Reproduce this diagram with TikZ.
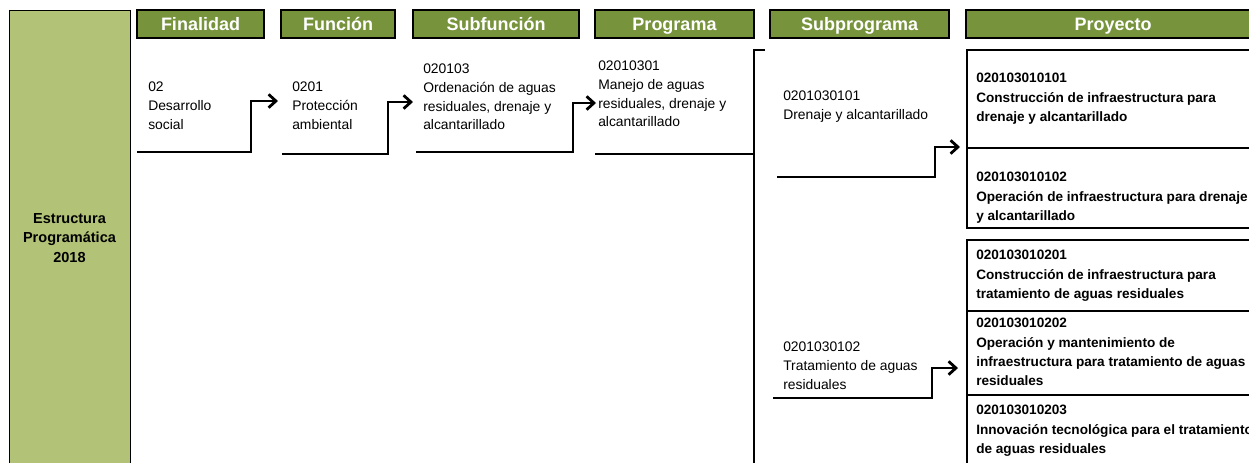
\documentclass[tikz,border=0pt]{standalone}
\usepackage{fontspec}
\setmainfont{Liberation Sans}
\usetikzlibrary{arrows.meta}
\definecolor{hdrgreen}{HTML}{77933C}
\definecolor{lightolive}{HTML}{B2C276}
\begin{document}
\begin{tikzpicture}[x=0.75pt,y=-0.75pt,
  hdr/.style={draw=black, line width=0.8pt, fill=hdrgreen, text=white,
    font=\fontsize{13.5}{16}\selectfont\bfseries, minimum height=21pt, inner sep=0pt,
    text height=9.7pt, text depth=0pt},
  lbl/.style={anchor=north west, inner sep=0pt, align=left, font=\fontsize{10.4}{13.9}\selectfont},
  plbl/.style={anchor=north west, inner sep=0pt, align=left, font=\fontsize{10.2}{14.5}\selectfont\bfseries},
  cell/.style={draw=black, line width=1.8pt, anchor=north west, inner sep=0pt, minimum width=220.5pt},
  conn/.style={line width=2.1pt, -{Straight Barb[length=5.5pt,width=10pt]}},
  bar/.style={line width=2.1pt},
  leftbox/.style={draw=black, line width=0.75pt, fill=lightolive,
    font=\fontsize{10.9}{14.6}\selectfont\bfseries, align=center,
    minimum width=90.75pt, minimum height=342pt, inner sep=0pt}]
\clip (0,0) rectangle (1249,462);
\fill[white] (0,0) rectangle (1249,462);

% left box
\node[leftbox] (est) at (69.5,238) {Estructura\\Programática\\2018};

% headers
\node[hdr, minimum width=95.25pt] (hfin) at (200.5,24) {Finalidad};
\node[hdr, minimum width=85.5pt] (hfun) at (338,24) {Función};
\node[hdr, minimum width=124.5pt] (hsub) at (496,24) {Subfunción};
\node[hdr, minimum width=119.25pt] (hpro) at (674.5,24) {Programa};
\node[hdr, minimum width=134.25pt] (hspr) at (859.5,24) {Subprograma};
\node[hdr, minimum width=220.5pt] (hpry) at (1113,24) {Proyecto};

% column texts
\node[lbl] (t1) at (148,82) {02\\Desarrollo\\social};
\node[lbl] (t2) at (292,82) {0201\\Protección\\ambiental};
\node[lbl] (t3) at (423,64) {020103\\Ordenación de aguas\\residuales, drenaje y\\alcantarillado};
\node[lbl] (t4) at (598,61) {02010301\\Manejo de aguas\\residuales, drenaje y\\alcantarillado};
\node[lbl] (u1) at (783,91) {0201030101\\Drenaje y alcantarillado};
\node[lbl] (u2) at (783,342) {0201030102\\Tratamiento de aguas\\residuales};

% project cells
\node[cell, minimum height=73.5pt] (p1) at (966,49) {};
\node[cell, minimum height=60pt] (p2) at (966,147) {};
\node[cell, minimum height=53.25pt] (p3) at (966,239) {};
\node[cell, minimum height=63pt] (p4) at (966,310) {};
\node[cell, minimum height=57pt] (p5) at (966,394) {};

\node[plbl] (p1t) at (976,73) {020103010101\\Construcción de infraestructura para\\drenaje y alcantarillado};
\node[plbl] (p2t) at (976,172) {020103010102\\Operación de infraestructura para drenaje\\y alcantarillado};
\node[plbl] (p3t) at (976,250) {020103010201\\Construcción de infraestructura para\\tratamiento de aguas residuales};
\node[plbl] (p4t) at (976,318) {020103010202\\Operación y mantenimiento de\\infraestructura para tratamiento de aguas\\residuales};
\node[plbl] (p5t) at (976,405) {020103010203\\Innovación tecnológica para el tratamiento\\de aguas residuales};

% connectors
\coordinate (s1) at (137,152); \coordinate (k1) at (251,101); \coordinate (a1) at (278,101);
\coordinate (s2) at (282,154); \coordinate (k2) at (388,102); \coordinate (a2) at (413,102);
\coordinate (s3) at (416,152); \coordinate (k3) at (573,103); \coordinate (a3) at (596,103);
\coordinate (s4) at (595,154); \coordinate (j4) at (754,154);
\coordinate (b0) at (765,50); \coordinate (b1) at (754,50); \coordinate (b2) at (754,470);
\coordinate (s5) at (777,177); \coordinate (k5) at (935,147); \coordinate (a5) at (960,147);
\coordinate (s6) at (773,398); \coordinate (k6) at (932,368); \coordinate (a6) at (958,368);

\draw[conn] (s1) -| (k1) -- (a1);
\draw[conn] (s2) -| (k2) -- (a2);
\draw[conn] (s3) -| (k3) -- (a3);
\draw[bar] (s4) -- (j4);
\draw[bar] (b0) -- (b1) -- (b2);
\draw[conn] (s5) -| (k5) -- (a5);
\draw[conn] (s6) -| (k6) -- (a6);
\end{tikzpicture}
\end{document}
